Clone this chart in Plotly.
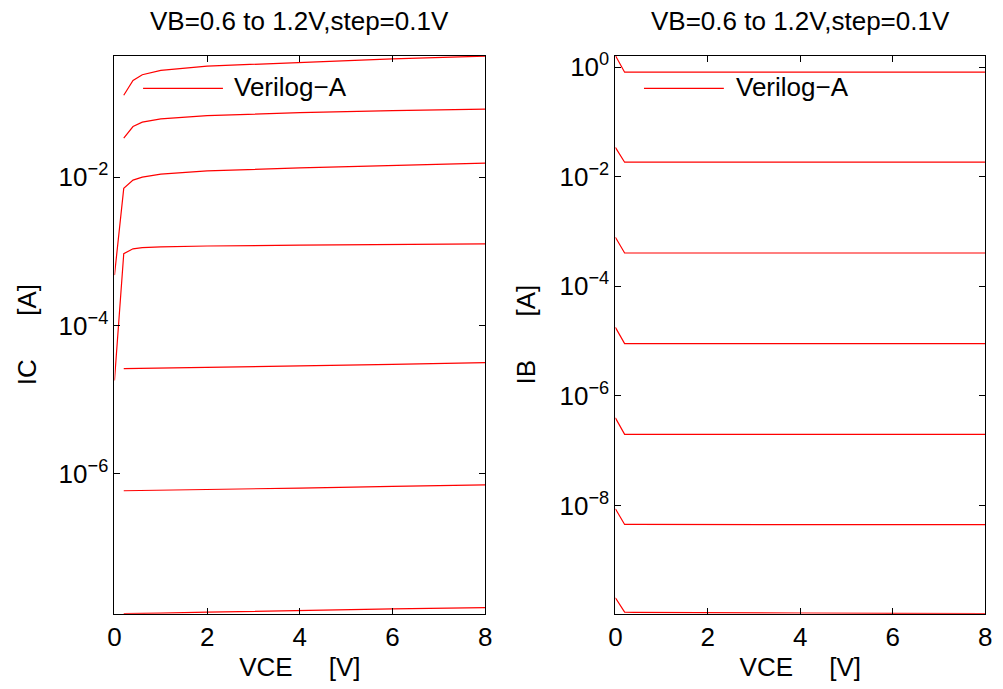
import plotly.graph_objects as go
from plotly.subplots import make_subplots

# ---- data ----
vce = [0, 0.2, 0.4, 0.6, 1, 2, 4, 6, 8]
vb_labels = ["0.6", "0.7", "0.8", "0.9", "1.0", "1.1", "1.2"]

ic_06 = [None, 1.31e-8, 1.31e-8, 1.32e-8, 1.33e-8, 1.37e-8, 1.45e-8, 1.52e-8, 1.58e-8]
ic_07 = [None, 5.93e-7, 5.95e-7, 5.97e-7, 6.0e-7, 6.15e-7, 6.45e-7, 6.8e-7, 7.13e-7]
ic_08 = [None, 2.62e-5, 2.63e-5, 2.64e-5, 2.66e-5, 2.72e-5, 2.85e-5, 3.0e-5, 3.16e-5]
ic_09 = [1.82e-5, 9.29e-4, 1.08e-3, 1.12e-3, 1.15e-3, 1.18e-3, 1.21e-3, 1.24e-3, 1.26e-3]
ic_10 = [4.77e-4, 7.06e-3, 9.12e-3, 1.0e-2, 1.10e-2, 1.21e-2, 1.33e-2, 1.44e-2, 1.54e-2]
ic_11 = [None, 0.0336, 0.048, 0.055, 0.0608, 0.0673, 0.0738, 0.0785, 0.0826]
ic_12 = [None, 0.127, 0.201, 0.24, 0.274, 0.313, 0.354, 0.393, 0.426]

ib_06 = [2.06e-10, 1.13e-10, 1.12e-10, 1.12e-10, 1.11e-10, 1.10e-10, 1.09e-10, 1.075e-10, 1.06e-10]
ib_07 = [8.71e-9, 4.5e-9, 4.5e-9, 4.5e-9, 4.5e-9, 4.5e-9, 4.48e-9, 4.46e-9, 4.45e-9]
ib_08 = [3.97e-7, 1.99e-7, 1.99e-7, 1.99e-7, 1.99e-7, 1.99e-7, 1.99e-7, 1.99e-7, 1.99e-7]
ib_09 = [1.78e-5, 9.0e-6, 9.0e-6, 9.0e-6, 9.0e-6, 9.0e-6, 9.0e-6, 9.0e-6, 9.0e-6]
ib_10 = [7.88e-4, 4.05e-4, 4.05e-4, 4.05e-4, 4.05e-4, 4.05e-4, 4.05e-4, 4.05e-4, 4.05e-4]
ib_11 = [0.0343, 0.0184, 0.0184, 0.0184, 0.0184, 0.0184, 0.0184, 0.0184, 0.0184]
ib_12 = [1.63, 0.81, 0.81, 0.81, 0.81, 0.81, 0.81, 0.81, 0.81]

ic_series = [ic_06, ic_07, ic_08, ic_09, ic_10, ic_11, ic_12]
ib_series = [ib_06, ib_07, ib_08, ib_09, ib_10, ib_11, ib_12]

x_ticks = [0, 2, 4, 6, 8]
ic_tickvals = [1e-2, 1e-4, 1e-6]
ic_ticktext = ["10<sup>\u22122</sup>", "10<sup>\u22124</sup>", "10<sup>\u22126</sup>"]
ib_tickvals = [1, 1e-2, 1e-4, 1e-6, 1e-8]
ib_ticktext = ["10<sup>0</sup>", "10<sup>\u22122</sup>", "10<sup>\u22124</sup>",
               "10<sup>\u22126</sup>", "10<sup>\u22128</sup>"]

title_text = "VB=0.6 to 1.2V,step=0.1V"
legend_text = "Verilog\u2212A"

# ---- figure ----
W, H = 1003, 689
FONT = "Liberation Sans, Arial, Helvetica, sans-serif"
RED = "#ff0000"
NB = "\u00a0"

fig = make_subplots(rows=1, cols=2)

for lab, ys in zip(vb_labels, ic_series):
    fig.add_trace(go.Scatter(x=vce, y=ys, mode="lines", name="VB=" + lab,
                             line=dict(color=RED, width=1.2), showlegend=False,
                             connectgaps=False), row=1, col=1)
for lab, ys in zip(vb_labels, ib_series):
    fig.add_trace(go.Scatter(x=vce, y=ys, mode="lines", name="VB=" + lab,
                             line=dict(color=RED, width=1.2), showlegend=False,
                             connectgaps=False), row=1, col=2)

dom_y = [1 - 613 / H, 1 - 50 / H]
dom_x1 = [109 / W, 485 / W]
dom_x2 = [617 / W, 992 / W]

axis_common = dict(showgrid=False, zeroline=False, showline=True, linecolor="black",
                   linewidth=1, mirror="allticks", ticks="inside", ticklen=6,
                   tickcolor="black", tickwidth=1,
                   tickfont=dict(family=FONT, size=26, color="black"))

fig.update_xaxes(**axis_common, range=[0, 8], tickvals=x_ticks,
                 title=dict(text="VCE" + NB * 5 + "[V]",
                            font=dict(family=FONT, size=26, color="black"), standoff=2))
fig.update_xaxes(domain=dom_x1, row=1, col=1)
fig.update_xaxes(domain=dom_x2, row=1, col=2)

fig.update_yaxes(**axis_common)
fig.update_yaxes(type="log", domain=dom_y, range=[-7.883, -0.362],
                 tickvals=ic_tickvals, ticktext=ic_ticktext,
                 title=dict(text="IC" + NB * 6 + "[A]",
                            font=dict(family=FONT, size=26, color="black"), standoff=14),
                 row=1, col=1)
fig.update_yaxes(type="log", domain=dom_y, range=[-9.975, 0.2116],
                 tickvals=ib_tickvals, ticktext=ib_ticktext,
                 title=dict(text="IB" + NB * 6 + "[A]",
                            font=dict(family=FONT, size=26, color="black"), standoff=16),
                 row=1, col=2)

annotations = []
shapes = []
for dom in (dom_x1, dom_x2):
    cx = (dom[0] + dom[1]) / 2
    annotations.append(dict(text=title_text, x=cx, y=1 - 15 / H, xref="paper", yref="paper",
                            xanchor="center", yanchor="middle", showarrow=False,
                            font=dict(family=FONT, size=26, color="black")))

# legends drawn as a line sample + text (one per panel)
leg_y = 1 - 83 / H
for x0, x1, xt in ((138, 219, 228), (646, 727, 737)):
    shapes.append(dict(type="line", xref="paper", yref="paper", x0=x0 / W, x1=x1 / W,
                       y0=leg_y, y1=leg_y, line=dict(color=RED, width=1.2)))
    annotations.append(dict(text=legend_text, x=xt / W, y=1 - 82 / H, xref="paper",
                            yref="paper", xanchor="left", yanchor="middle", showarrow=False,
                            font=dict(family=FONT, size=26, color="black")))

fig.update_layout(width=W, height=H, margin=dict(l=0, r=0, t=0, b=0),
                  paper_bgcolor="white", plot_bgcolor="white",
                  showlegend=False, annotations=annotations, shapes=shapes,
                  font=dict(family=FONT, color="black"))

fig.write_html("out.html", config={"displayModeBar": False},
               post_script="document.body.style.margin='0px';document.body.style.padding='0px';")
